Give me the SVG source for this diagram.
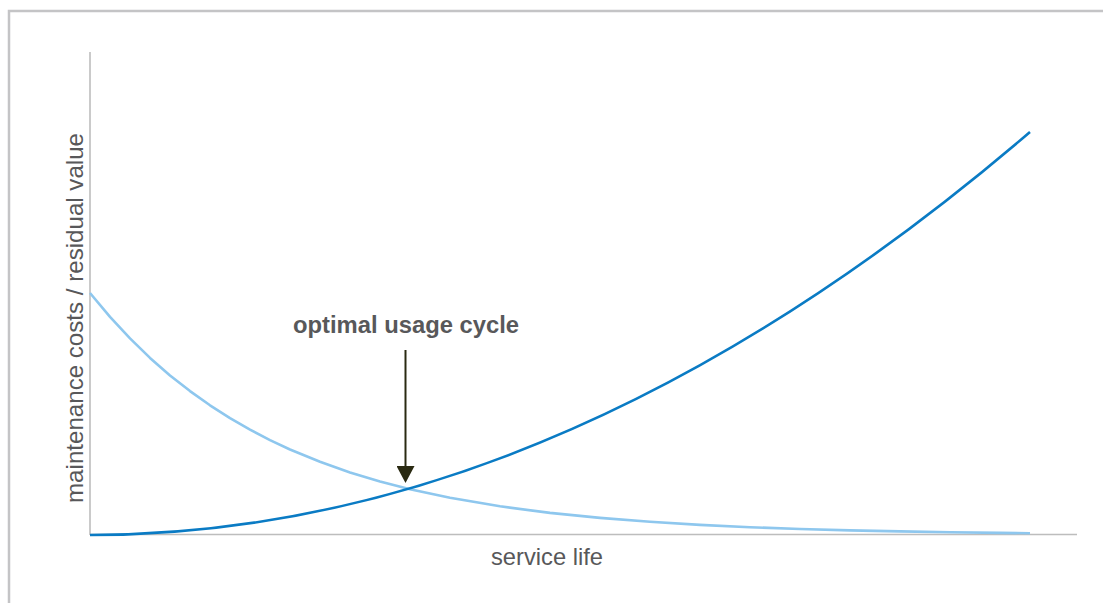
<svg xmlns="http://www.w3.org/2000/svg" width="1103" height="603" viewBox="0 0 1103 603">
  <style>
    .frame { stroke: #c4c4c6; stroke-width: 2.5; fill: none; }
    .axis { stroke: #bdbdbd; stroke-width: 1.6; fill: none; }
    .cost { stroke: #0a7bc4; stroke-width: 2.6; fill: none; stroke-linejoin: round; }
    .value { stroke: #8ec7ee; stroke-width: 2.6; fill: none; stroke-linejoin: round; }
    .label { font-family: "Liberation Sans", Arial, sans-serif; font-size: 24px; fill: #58585a; }
    .title { font-family: "Liberation Sans", Arial, sans-serif; font-size: 24px; font-weight: bold; fill: #58585a; }
    .pointer { stroke: #2a2a12; stroke-width: 2; fill: none; }
  </style>
  <defs>
    <marker id="head" viewBox="0 0 17 18" refX="7" refY="9" markerWidth="17" markerHeight="18" markerUnits="userSpaceOnUse" orient="auto">
      <path d="M0,0 L17,9 L0,18 z" fill="#2a2a12"/>
    </marker>
  </defs>
  <rect width="1103" height="603" fill="#ffffff"/>
  <g id="frame">
    <path class="frame" d="M9,603 V11 H1103"/>
  </g>
  <g id="axes">
    <line class="axis" x1="90" y1="52" x2="90" y2="535"/>
    <line class="axis" x1="90" y1="534.5" x2="1077" y2="534.5"/>
  </g>
  <g id="residual-value">
    <polyline class="value" points="90,293 110,316.9 130,338.4 150,357.9 170,375.4 190,391.1 210,405.3 230,418.1 250,429.7 270,440.1 290,449.5 320,461.8 350,472.4 380,481.4 410,489.2 450,497.8 500,506.3 550,512.9 600,517.9 650,521.8 700,524.9 750,527.2 800,529 850,530.4 900,531.4 950,532.2 1000,532.9 1030,533.2"/>
  </g>
  <g id="maintenance-costs">
    <path class="cost" d="M90,535 Q560,535 1030,132"/>
  </g>
  <g id="y-label">
    <text class="label" transform="translate(83,318) rotate(-90)" text-anchor="middle" textLength="370" lengthAdjust="spacingAndGlyphs">maintenance costs / residual value</text>
  </g>
  <g id="x-label">
    <text class="label" x="547" y="565" text-anchor="middle" textLength="112" lengthAdjust="spacingAndGlyphs">service life</text>
  </g>
  <g id="optimal-label">
    <text class="title" x="406" y="333" text-anchor="middle" textLength="226" lengthAdjust="spacingAndGlyphs">optimal usage cycle</text>
  </g>
  <g id="connectors">
    <line class="pointer" x1="405.5" y1="350" x2="405.5" y2="473" marker-end="url(#head)"/>
  </g>
</svg>
